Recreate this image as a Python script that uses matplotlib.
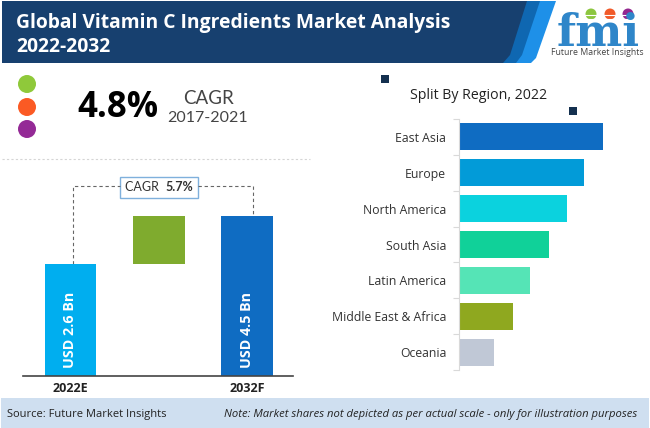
import matplotlib
matplotlib.use("Agg")
import matplotlib.pyplot as plt
from matplotlib.patches import Polygon, Rectangle, Circle

# --- Data ---
periods = ["2022E", "2032F"]
market_labels = ["USD 2.6 Bn", "USD 4.5 Bn"]
market_heights = [112, 160]  # drawn as illustration, not to scale
gap_bottom = 112
gap_height = 48

regions = ["East Asia", "Europe", "North America", "South Asia",
           "Latin America", "Middle East & Africa", "Oceania"]
region_values = [144.5, 125, 108, 90, 71, 54, 35.5]
region_colors = ["#0f6cc2", "#029bd8", "#0bd2de", "#10d199",
                 "#55e4b6", "#8fa81f", "#c0c8d6"]

plt.rcParams["font.family"] = ["Open Sans", "DejaVu Sans"]

fig = plt.figure(figsize=(6.5, 4.28), dpi=100)

# full figure axes in pixel units for the infographic furniture
bg = fig.add_axes([0, 0, 1, 1])
bg.set_xlim(0, 650)
bg.set_ylim(428, 0)
bg.axis("off")

# --- Header ---
bg.add_patch(Polygon([(2, 1), (556, 1), (536, 58), (531, 63), (2, 63)], color="#1e90e8", lw=0))
bg.add_patch(Polygon([(2, 1), (540, 1), (522, 55), (516, 63), (2, 63)], color="#0f67b1", lw=0))
bg.add_patch(Polygon([(2, 1), (527, 1), (510, 55), (503, 63), (2, 63)], color="#17406f", lw=0))
bg.text(16, 23, "Global Vitamin C Ingredients Market Analysis", color="white",
        fontsize=13.9, fontweight="bold", va="center", ha="left")
bg.text(16, 47, "2022-2032", color="white", fontsize=13.9, fontweight="bold", va="center", ha="left")

# --- Logo ---
bg.text(598, 46, "fmi", color="#2f86c9", fontsize=32, fontweight="bold", family="DejaVu Serif",
        va="baseline", ha="center")
for y in range(15, 46, 4):
    bg.plot([556, 642], [y, y], color="white", lw=0.8)
bg.add_patch(Circle((591, 14), 5.5, color="#8cc63f", lw=0))
bg.add_patch(Circle((610, 14), 5.5, color="#f15a29", lw=0))
bg.add_patch(Circle((628, 14), 5.5, color="#93278f", lw=0))
bg.text(597, 52, "Future Market Insights", color="#444444", fontsize=6.3, va="center", ha="center")

# --- CAGR block ---
bg.add_patch(Circle((27, 84), 9, color="#8fc93a", lw=0))
bg.add_patch(Circle((27, 107), 9, color="#fb5a24", lw=0))
bg.add_patch(Circle((27, 129), 9, color="#942a96", lw=0))
bg.text(118, 108, "4.8%", color="black", fontsize=25, fontweight="bold", va="center", ha="center")
bg.text(208.5, 98, "CAGR", color="#444444", fontsize=13.5, va="center", ha="center", family="Lato")
bg.text(208, 118, "2017-2021", color="#444444", fontsize=11.5, va="center", ha="center", family="Lato")
bg.plot([2, 310], [159, 159], color="#d5d5d5", lw=0.8, ls=(0, (2, 2)))

# small squares left over in the source picture
bg.add_patch(Rectangle((381, 75), 8, 8, color="#14304f", lw=0))
bg.add_patch(Rectangle((569, 107), 8, 8, color="#14304f", lw=0))
bg.text(479, 95, "Split By Region, 2022", color="#222222", fontsize=10.2, va="center", ha="center")

# --- Footer ---
bg.add_patch(Rectangle((1, 398), 648, 30, color="#cfdff0", lw=0))
bg.text(7, 414, "Source: Future Market Insights", color="#222222", fontsize=8, va="center", ha="left")
bg.text(637, 414, "Note: Market shares not depicted as per actual scale - only for illustration purposes",
        color="#222222", fontsize=8.1, style="italic", va="center", ha="right")

# --- Market size bars ---
ax = fig.add_axes([23 / 650, (428 - 376) / 428, 270 / 650, 170 / 428])
ax.patch.set_alpha(0)
ax.set_xlim(23, 293)
ax.set_ylim(0, 170)
xpos = [70.5, 247]
ax.bar(xpos, market_heights, width=[51, 52], color=["#00aeef", "#0f6cc2"])
ax.bar([159], [gap_height], bottom=[gap_bottom], width=52, color="#7fab2e")
for x, lab in zip(xpos, market_labels):
    ax.text(x, 46, lab, rotation=90, color="white", fontsize=10.3, fontweight="bold",
            va="center", ha="center")
ax.set_xticks(xpos)
ax.set_xticklabels(periods, fontsize=9, fontweight="bold", color="#222222")
ax.tick_params(axis="x", length=0, pad=4)
ax.set_yticks([])
for side in ["top", "left", "right"]:
    ax.spines[side].set_visible(False)
ax.spines["bottom"].set_color("#444444")
ax.spines["bottom"].set_linewidth(1.2)

# dashed connector and label
dash = dict(color="#666666", lw=0.8, ls=(0, (3, 2.5)))
bg.plot([73, 73, 120], [264, 186, 186], **dash)
bg.plot([198, 253, 253], [186, 186, 216], **dash)
bg.text(162, 187, "CAGR ", color="#333333", fontsize=9, va="center", ha="right", family="Lato")
bg.text(165, 187, "5.7%", color="#333333", fontsize=9, fontweight="bold", va="center", ha="left", family="Lato")
bg.add_patch(Rectangle((119.5, 176.5), 78, 21, fill=False, ec="#7fb0dc", lw=1))

# --- Region bars ---
rx = fig.add_axes([458.7 / 650, (428 - 370) / 428, 170 / 650, 251 / 428])
rx.patch.set_alpha(0)
ypos = list(range(len(regions)))
rx.barh(ypos, region_values, height=0.75, color=region_colors)
rx.set_xlim(0, 170)
rx.set_ylim(6.5, -0.5)
rx.set_yticks(ypos)
rx.set_yticklabels(regions, fontsize=8.8, color="#333333")
rx.tick_params(axis="y", length=0, pad=9)
rx.set_yticks([i - 0.5 for i in range(len(regions) + 1)], minor=True)
rx.tick_params(axis="y", which="minor", length=4, color="#d9d9d9", width=0.8)
rx.set_xticks([])
for side in ["top", "bottom", "right"]:
    rx.spines[side].set_visible(False)
rx.spines["left"].set_color("#d9d9d9")

fig.savefig("out.png", dpi=100)
